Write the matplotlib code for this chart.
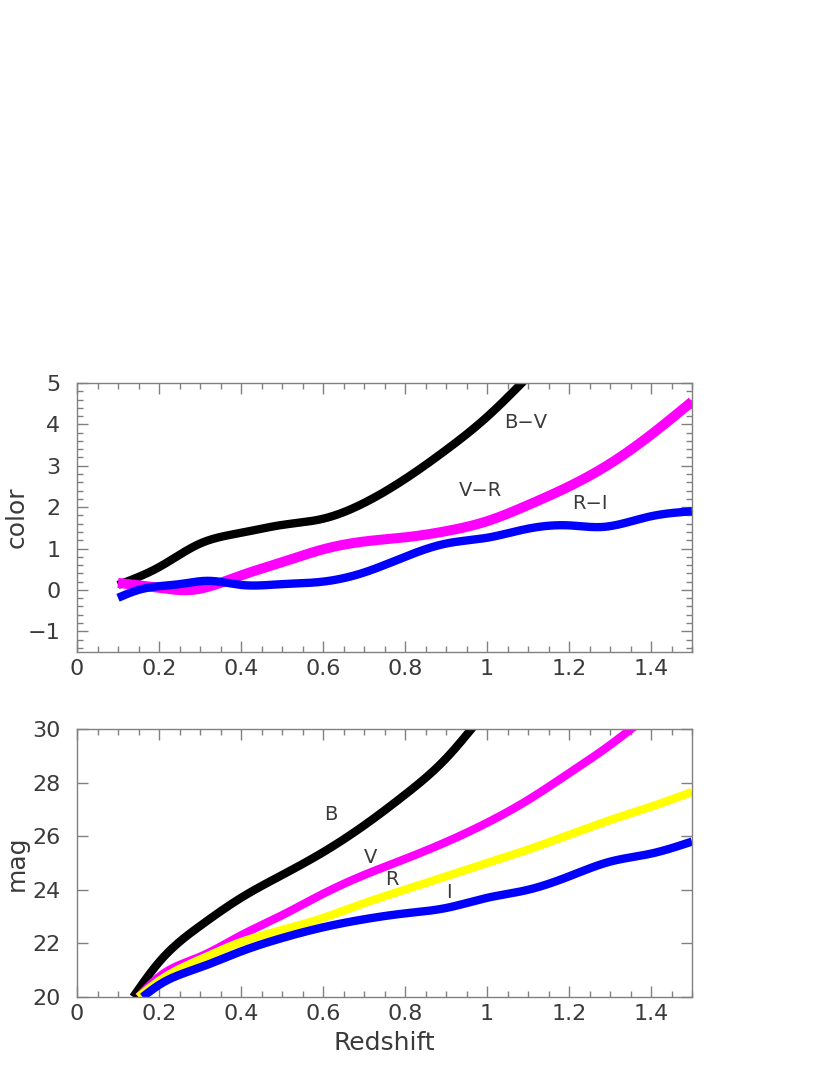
import matplotlib
matplotlib.use("Agg")
import matplotlib.pyplot as plt
from matplotlib.ticker import MultipleLocator, NullLocator
import numpy as np

# ---- top panel: colors vs redshift ----
z_bv = [0.10, 0.20, 0.30, 0.40, 0.50, 0.60, 0.70, 0.80, 0.90, 1.00, 1.09]
bv = [0.12, 0.55, 1.12, 1.38, 1.57, 1.72, 2.10, 2.68, 3.38, 4.18, 5.05]

z_vr = [0.10, 0.20, 0.28, 0.35, 0.40, 0.50, 0.60, 0.70, 0.80, 0.90, 1.00,
        1.10, 1.20, 1.30, 1.40, 1.50]
vr = [0.17, 0.05, 0.00, 0.17, 0.35, 0.67, 0.98, 1.17, 1.27, 1.42, 1.66,
      2.05, 2.50, 3.05, 3.75, 4.55]

z_ri = [0.10, 0.15, 0.20, 0.25, 0.32, 0.40, 0.50, 0.60, 0.70, 0.80, 0.90,
        1.00, 1.10, 1.20, 1.28, 1.40, 1.50]
ri = [-0.19, 0.00, 0.09, 0.14, 0.22, 0.12, 0.14, 0.20, 0.42, 0.80, 1.12,
      1.26, 1.48, 1.56, 1.52, 1.78, 1.90]

# ---- bottom panel: magnitudes vs redshift ----
z_b = [0.137, 0.20, 0.30, 0.40, 0.50, 0.60, 0.70, 0.80, 0.90, 0.97]
mag_b = [20.0, 21.3, 22.65, 23.7, 24.55, 25.4, 26.4, 27.55, 28.9, 30.15]

z_v = [0.15, 0.20, 0.30, 0.40, 0.50, 0.60, 0.70, 0.80, 0.90, 1.00, 1.10,
       1.20, 1.30, 1.36]
mag_v = [20.0, 20.75, 21.5, 22.3, 23.05, 23.85, 24.55, 25.15, 25.78, 26.5,
         27.35, 28.35, 29.4, 30.1]

z_r = [0.15, 0.20, 0.30, 0.40, 0.50, 0.60, 0.70, 0.80, 0.90, 1.00, 1.10,
       1.20, 1.30, 1.40, 1.50]
mag_r = [20.0, 20.6, 21.4, 22.05, 22.5, 22.95, 23.5, 24.0, 24.5, 25.0, 25.5,
         26.05, 26.6, 27.1, 27.65]

z_i = [0.16, 0.20, 0.30, 0.40, 0.50, 0.60, 0.70, 0.80, 0.90, 1.00, 1.10,
       1.20, 1.30, 1.40, 1.50]
mag_i = [20.0, 20.45, 21.1, 21.7, 22.2, 22.6, 22.9, 23.12, 23.32, 23.7, 24.0,
         24.5, 25.05, 25.35, 25.8]

xticks = [0, 0.2, 0.4, 0.6, 0.8, 1.0, 1.2, 1.4]
xticklabels = ["0", "0.2", "0.4", "0.6", "0.8", "1", "1.2", "1.4"]
top_yticks = [-1, 0, 1, 2, 3, 4, 5]
top_yticklabels = ["\u22121", "0", "1", "2", "3", "4", "5"]
bot_yticks = [20, 22, 24, 26, 28, 30]

TXT = "#3a3a3a"
SP = "#808080"

plt.rcParams['font.family'] = ['DejaVu Sans']
fig = plt.figure(figsize=(8.3, 10.75), dpi=100)
ax1 = fig.add_axes([77/830, 1-652/1075, 615/830, 269/1075])
ax2 = fig.add_axes([77/830, 1-997/1075, 615/830, 268/1075])


def style(ax, minor_y):
    for s in ax.spines.values():
        s.set_color(SP)
        s.set_linewidth(1.0)
    ax.xaxis.set_minor_locator(MultipleLocator(0.05))
    if minor_y is None:
        ax.yaxis.set_minor_locator(NullLocator())
    else:
        ax.yaxis.set_minor_locator(MultipleLocator(minor_y))
    ax.tick_params(which='both', direction='in', top=True, right=True,
                   color=SP, labelcolor=TXT, labelsize=16)
    ax.tick_params(which='major', length=8, width=1)
    ax.tick_params(which='minor', length=4.3, width=1)
    ax.tick_params(axis='y', which='major', pad=12)
    ax.tick_params(axis='x', which='major', pad=5)


def spline(x, y, num=400):
    """Natural cubic spline through the read points (for a smooth stroke)."""
    x = np.asarray(x, float)
    y = np.asarray(y, float)
    n = len(x)
    h = np.diff(x)
    A = np.zeros((n, n))
    r = np.zeros(n)
    A[0, 0] = 1
    A[-1, -1] = 1
    for i in range(1, n - 1):
        A[i, i - 1] = h[i - 1]
        A[i, i] = 2 * (h[i - 1] + h[i])
        A[i, i + 1] = h[i]
        r[i] = 6 * ((y[i + 1] - y[i]) / h[i] - (y[i] - y[i - 1]) / h[i - 1])
    M = np.linalg.solve(A, r)
    xs = np.linspace(x[0], x[-1], num)
    k = np.clip(np.searchsorted(x, xs) - 1, 0, n - 2)
    hk = h[k]
    a = (x[k + 1] - xs) / hk
    b = (xs - x[k]) / hk
    ys = (a * y[k] + b * y[k + 1]
          + ((a ** 3 - a) * M[k] + (b ** 3 - b) * M[k + 1]) * hk ** 2 / 6)
    return xs, ys


# top panel
ax1.plot(*spline(z_bv, bv), color='black', lw=6, solid_capstyle='butt')
ax1.plot(*spline(z_vr, vr), color='#ff00ff', lw=7.2, solid_capstyle='butt')
ax1.plot(*spline(z_ri, ri), color='#0000ff', lw=6, solid_capstyle='butt')
ax1.set_xlim(0, 1.5)
ax1.set_ylim(-1.5, 5)
ax1.set_xticks(xticks)
ax1.set_xticklabels(xticklabels)
ax1.set_yticks(top_yticks)
ax1.set_yticklabels(top_yticklabels)
style(ax1, 0.2)
ax1.set_ylabel("color", fontsize=18, color=TXT, va='center', ha='center')
ax1.yaxis.set_label_coords(-0.098, 0.5)
ax1.text(1.095, 4.05, "B\u2212V", fontsize=14, color=TXT, ha='center', va='center')
ax1.text(0.985, 2.4, "V\u2212R", fontsize=14, color=TXT, ha='center', va='center')
ax1.text(1.25, 2.1, "R\u2212I", fontsize=14, color=TXT, ha='center', va='center')

# bottom panel
ax2.plot(*spline(z_b, mag_b), color='black', lw=6, solid_capstyle='butt')
ax2.plot(*spline(z_v, mag_v), color='#ff00ff', lw=6, solid_capstyle='butt')
ax2.plot(*spline(z_r, mag_r), color='#ffff00', lw=6, solid_capstyle='butt')
ax2.plot(*spline(z_i, mag_i), color='#0000ff', lw=6, solid_capstyle='butt')
ax2.set_xlim(0, 1.5)
ax2.set_ylim(20, 30)
ax2.set_xticks(xticks)
ax2.set_xticklabels(xticklabels)
ax2.set_yticks(bot_yticks)
style(ax2, None)
ax2.set_ylabel("mag", fontsize=18, color=TXT, va='center', ha='center')
ax2.yaxis.set_label_coords(-0.098, 0.5)
ax2.set_xlabel("Redshift", fontsize=18, color=TXT, va='center')
ax2.xaxis.set_label_coords(0.5, -0.17)
ax2.text(0.62, 26.8, "B", fontsize=14, color=TXT, ha='center', va='center')
ax2.text(0.715, 25.2, "V", fontsize=14, color=TXT, ha='center', va='center')
ax2.text(0.768, 24.4, "R", fontsize=14, color=TXT, ha='center', va='center')
ax2.text(0.907, 23.9, "I", fontsize=14, color=TXT, ha='center', va='center')

fig.savefig("out.png", dpi=100)
